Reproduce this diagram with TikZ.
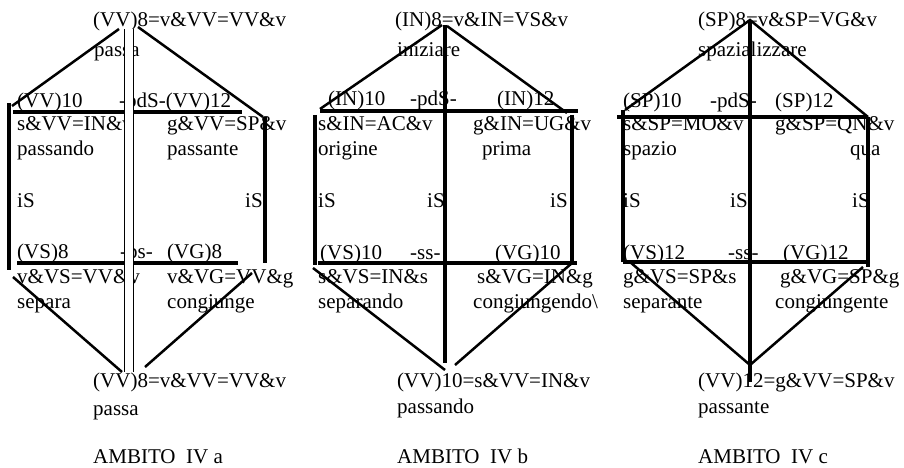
\documentclass[tikz,border=0pt]{standalone}
\usepackage{fontspec}
\setmainfont{Liberation Serif}
\usepackage{tikz}
\usetikzlibrary{arrows}

\tikzset{
lbl/.style={anchor=base west,inner sep=0pt,font=\fontsize{21}{24}\selectfont},
frame/.style={line width=3.3pt},
slant/.style={line width=2.5pt}
}

\begin{document}
\begin{tikzpicture}[x=1pt,y=-1pt]
\useasboundingbox (0,0) rectangle (904,468);

% AMBITO IV a
\node[lbl] (aTop) at (93,27) {(VV)8=v\&VV=VV\&v};
\node[lbl] (aTopw) at (94,57) {passa};
\node[lbl] (aUL) at (17,107) {(VV)10};
\node[lbl] (aUM) at (119,107) {-pdS-(VV)12};
\node[lbl] (aUL1) at (17,131) {s\&VV=IN\&v};
\node[lbl] (aUR1) at (167,131) {g\&VV=SP\&v};
\node[lbl] (aUL2) at (17,155) {passando};
\node[lbl] (aUR2) at (167,155) {passante};
\node[lbl] (aiS1) at (17,207) {iS};
\node[lbl] (aiS2) at (245,207) {iS};
\node[lbl] (aDL) at (17,258) {(VS)8};
\node[lbl] (aDM) at (120,258) {-ps-};
\node[lbl] (aDR) at (167,258) {(VG)8};
\node[lbl] (aDL1) at (17,283) {v\&VS=VV\&v};
\node[lbl] (aDR1) at (167,283) {v\&VG=VV\&g};
\node[lbl] (aDL2) at (17,308) {separa};
\node[lbl] (aDR2) at (167,308) {congiunge};
\node[lbl] (aBot) at (93,387) {(VV)8=v\&VV=VV\&v};
\node[lbl] (aBotw) at (93,415) {passa};
\node[lbl] (aName) at (93,463) {AMBITO\ \ IV a};

\coordinate (a0) at (119,29);
\coordinate (a1) at (12,106);
\coordinate (a2) at (138,27);
\coordinate (a3) at (263,117);
\coordinate (a4) at (13,112);
\coordinate (a5) at (242,112);
\coordinate (a6) at (9,103);
\coordinate (a7) at (9,270);
\coordinate (a8) at (265,117);
\coordinate (a9) at (265,263);
\coordinate (a10) at (17,263);
\coordinate (a11) at (238,263);
\coordinate (a12) at (13,277);
\coordinate (a13) at (122,372);
\coordinate (a14) at (145,367);
\coordinate (a15) at (252,273);
\coordinate (a16) at (128.8,29);
\coordinate (a17) at (128.8,372);

\draw[slant] (a0)--(a1) (a2)--(a3) (a12)--(a13) (a14)--(a15);
\draw[frame] (a4)--(a5) (a6)--(a7) (a8)--(a9) (a10)--(a11);
\draw[line width=0.9pt,double=white,double distance=8pt] (a16)--(a17);

% AMBITO IV b
\node[lbl] (bTop) at (395,27) {(IN)8=v\&IN=VS\&v};
\node[lbl] (bTopw) at (397,57) {iniziare};
\node[lbl] (bUL) at (328,106) {(IN)10};
\node[lbl] (bUM) at (410,106) {-pdS-};
\node[lbl] (bUR) at (497,106) {(IN)12};
\node[lbl] (bUL1) at (318,131) {s\&IN=AC\&v};
\node[lbl] (bUR1) at (473,131) {g\&IN=UG\&v};
\node[lbl] (bUL2) at (318,155) {origine};
\node[lbl] (bUR2) at (482,155) {prima};
\node[lbl] (biS1) at (318,207) {iS};
\node[lbl] (biS2) at (427,207) {iS};
\node[lbl] (biS3) at (550,207) {iS};
\node[lbl] (bDL) at (320,259) {(VS)10};
\node[lbl] (bDM) at (410,259) {-ss-};
\node[lbl] (bDR) at (495,259) {(VG)10};
\node[lbl] (bDL1) at (318,283) {s\&VS=IN\&s};
\node[lbl] (bDR1) at (477,283) {s\&VG=IN\&g};
\node[lbl] (bDL2) at (318,308) {separando};
\node[lbl] (bDR2) at (473,308) {congiungendo\textbackslash};
\node[lbl] (bBot) at (397,387) {(VV)10=s\&VV=IN\&v};
\node[lbl] (bBotw) at (397,413) {passando};
\node[lbl] (bName) at (397,463) {AMBITO\ \ IV b};

\coordinate (b0) at (442,25);
\coordinate (b1) at (320,109);
\coordinate (b2) at (447,26);
\coordinate (b3) at (567,113);
\coordinate (b4) at (320,111);
\coordinate (b5) at (578,111);
\coordinate (b6) at (315,115);
\coordinate (b7) at (315,265);
\coordinate (b8) at (572,115);
\coordinate (b9) at (572,265);
\coordinate (b10) at (318,263);
\coordinate (b11) at (577,263);
\coordinate (b12) at (313,268);
\coordinate (b13) at (445,370);
\coordinate (b14) at (455,365);
\coordinate (b15) at (572,263);
\coordinate (b16) at (445,25);
\coordinate (b17) at (445,363);

\draw[slant] (b0)--(b1) (b2)--(b3) (b12)--(b13) (b14)--(b15);
\draw[frame] (b4)--(b5) (b6)--(b7) (b8)--(b9) (b10)--(b11) (b16)--(b17);

% AMBITO IV c
\node[lbl] (cTop) at (698,27) {(SP)8=v\&SP=VG\&v};
\node[lbl] (cTopw) at (698,57) {spazializzare};
\node[lbl] (cUL) at (623,107) {(SP)10};
\node[lbl] (cUM) at (710,107) {-pdS-};
\node[lbl] (cUR) at (775,107) {(SP)12};
\node[lbl] (cUL1) at (623,131) {s\&SP=MO\&v};
\node[lbl] (cUR1) at (775,131) {g\&SP=QN\&v};
\node[lbl] (cUL2) at (623,155) {spazio};
\node[lbl] (cUR2) at (850,155) {qua};
\node[lbl] (ciS1) at (623,207) {iS};
\node[lbl] (ciS2) at (730,207) {iS};
\node[lbl] (ciS3) at (852,207) {iS};
\node[lbl] (cDL) at (623,259) {(VS)12};
\node[lbl] (cDM) at (728,259) {-ss-};
\node[lbl] (cDR) at (783,259) {(VG)12};
\node[lbl] (cDL1) at (623,283) {g\&VS=SP\&s};
\node[lbl] (cDR1) at (780,283) {g\&VG=SP\&g};
\node[lbl] (cDL2) at (623,308) {separante};
\node[lbl] (cDR2) at (775,308) {congiungente};
\node[lbl] (cBot) at (698,387) {(VV)12=g\&VV=SP\&v};
\node[lbl] (cBotw) at (698,413) {passante};
\node[lbl] (cName) at (698,463) {AMBITO\ \ IV c};

\coordinate (c0) at (750,20);
\coordinate (c1) at (625,110);
\coordinate (c2) at (868,117);
\coordinate (c3) at (617,117);
\coordinate (c4) at (623,110);
\coordinate (c5) at (623,262);
\coordinate (c6) at (868,267);
\coordinate (c7) at (867,262);
\coordinate (c8) at (630,262);
\coordinate (c9) at (750,365);
\coordinate (c10) at (863,267);
\coordinate (c11) at (750,382);

\draw[slant] (c1)--(c0)--(c2) (c8)--(c9)--(c10);
\draw[frame] (c3)--(c2) (c4)--(c5) (c2)--(c6) (c5)--(c7) (c0)--(c11);
\end{tikzpicture}
\end{document}
